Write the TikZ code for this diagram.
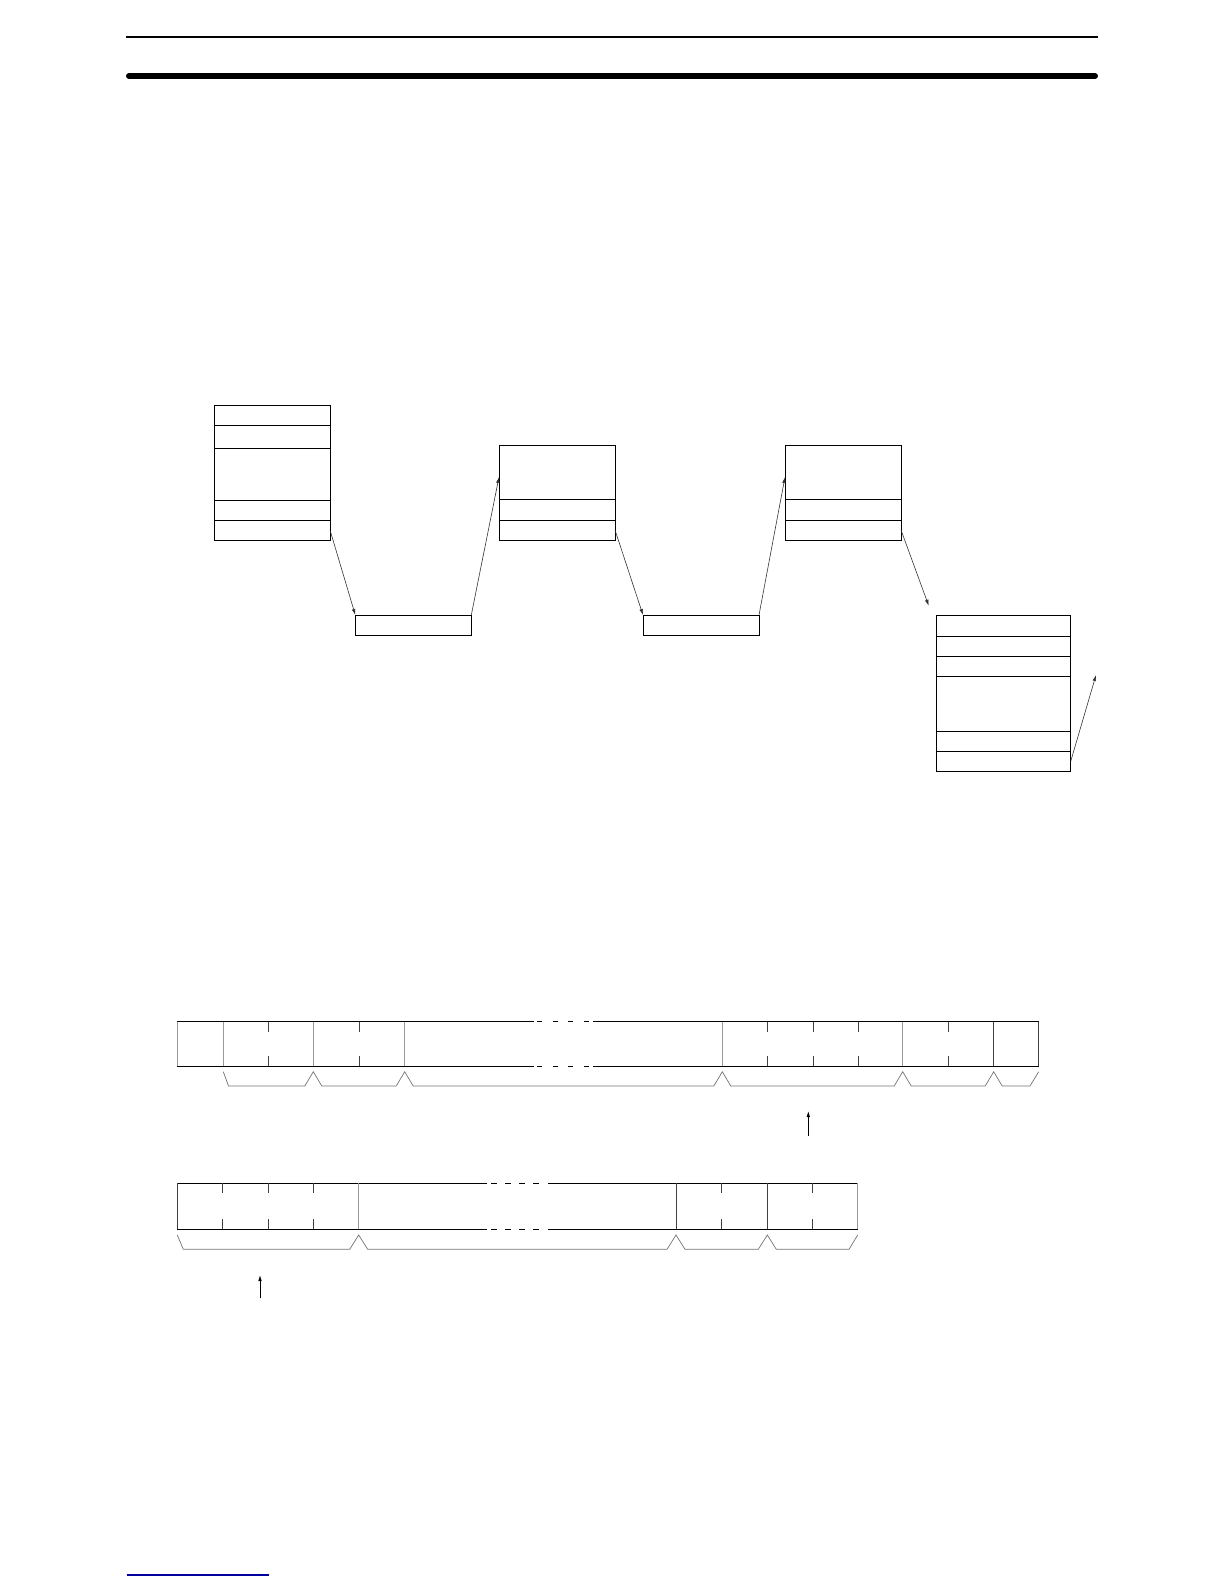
\documentclass[tikz,border=0pt]{standalone}
\usetikzlibrary{positioning}
\usetikzlibrary{arrows.meta}
\definecolor{linkblue}{RGB}{0,0,160}
\tikzstyle{fld} = [rectangle,draw=black,line width=0.9pt,inner sep=0pt,outer sep=0pt,minimum width=116pt]
\tikzstyle{edg} = [-{Latex[length=6pt,width=3.6pt]},draw=black!80,line width=0.6pt]
\tikzstyle{frm} = [draw=black,line width=1pt]

\begin{document}
\begin{tikzpicture}[x=1pt,y=-1pt,
  sep/.style={draw=black!40,line width=0.8pt},
  tck/.style={draw=black!75,line width=0.8pt},
  brc/.style={draw=black!55,line width=0.7pt}]
\useasboundingbox (0,0) rectangle (1224,1584);
%\draw [help lines] (0,0) grid (1224,1584);

% Page rules
\draw[line width=1.7pt] (126,37.3) -- (1098,37.3);
\draw[line width=6pt, line cap=round] (129,76) -- (1095,76);
\draw[linkblue, line width=1.2pt] (126.7,1575) -- (269,1575);

% Define nodes
\node[fld, anchor=north west, minimum height=20pt] at (214,405)   (a1) {};
\node[fld, below=0pt of a1, minimum height=23pt]                 (a2) {};
\node[fld, below=0pt of a2, minimum height=52pt]                 (a3) {};
\node[fld, below=0pt of a3, minimum height=20pt]                 (a4) {};
\node[fld, below=0pt of a4, minimum height=20pt]                 (a5) {};

\node[fld, anchor=north west, minimum height=20pt] at (355.3,615) (s1) {};

\node[fld, anchor=north west, minimum height=54pt] at (499,445)   (b1) {};
\node[fld, below=0pt of b1, minimum height=21pt]                 (b2) {};
\node[fld, below=0pt of b2, minimum height=20pt]                 (b3) {};

\node[fld, anchor=north west, minimum height=20pt] at (643,615)   (s2) {};

\node[fld, anchor=north west, minimum height=54pt] at (785,445)   (c1) {};
\node[fld, below=0pt of c1, minimum height=21pt]                 (c2) {};
\node[fld, below=0pt of c2, minimum height=20pt]                 (c3) {};

\node[fld, anchor=north west, minimum width=134pt, minimum height=21pt] at (936.7,615.3) (d1) {};
\node[fld, below=0pt of d1, minimum width=134pt, minimum height=20pt] (d2) {};
\node[fld, below=0pt of d2, minimum width=134pt, minimum height=20pt] (d3) {};
\node[fld, below=0pt of d3, minimum width=134pt, minimum height=55pt] (d4) {};
\node[fld, below=0pt of d4, minimum width=134pt, minimum height=20pt] (d5) {};
\node[fld, below=0pt of d5, minimum width=134pt, minimum height=20pt] (d6) {};

\coordinate (cEnd) at (928.7,605.7);
\coordinate (dOut) at (1096,675);

% Edges
\draw[edg] (a5.east)       -- (s1.north west);
\draw[edg] (s1.north east) -- ([yshift=-5pt]b1.west);
\draw[edg] (b3.east)       -- (s2.north west);
\draw[edg] (s2.north east) -- ([yshift=-5pt]c1.west);
\draw[edg] (c3.east)       -- (cEnd);
\draw[edg] (d6.east)       -- (dOut);

% Frame strip (upper)
\draw[frm] (177.3,1021.5) -- (534,1021.5) (593,1021.5) -- (1038.7,1021.5);
\draw[frm] (177.3,1066) -- (534,1066) (593,1066) -- (1038.7,1066);
\draw[frm, dash pattern=on 5pt off 10.5pt] (537,1021.5) -- (590,1021.5) (537,1066) -- (590,1066);
\foreach \x in {177.3,223.3,313.3,404.7,722.3,902.7}
  \draw[sep] (\x,1021.5) -- (\x,1066);
\foreach \x in {993.7,1038.7}
  \draw[tck] (\x,1021.5) -- (\x,1066);
\foreach \x in {268.3,359.3,767.3,813.3,858.3,948.3}
  \draw[tck] (\x,1021.5) -- (\x,1031.5) (\x,1056) -- (\x,1066);
\draw[brc] (223.3,1071.7) -- (228.5,1086)
  \foreach \x in {313.3,404.7,722.3,902.7,993.7} { -- (\x-8.5,1086) -- (\x,1071.7) -- (\x+8.5,1086) }
  -- (1030,1086) -- (1038.7,1071.7);

\coordinate (upA)  at (808.3,1136);
\coordinate (tipA) at (808.3,1111);
\draw[-{Latex[length=6pt,width=3.6pt]}, line width=0.8pt] (upA) -- (tipA);

% Frame strip (lower)
\draw[frm] (177.3,1183.3) -- (487.3,1183.3) (548.3,1183.3) -- (857.7,1183.3);
\draw[frm] (177.3,1229.3) -- (487.3,1229.3) (548.3,1229.3) -- (857.7,1229.3);
\draw[frm, dash pattern=on 6pt off 8pt] (491,1183.3) -- (545,1183.3) (491,1229.3) -- (545,1229.3);
\foreach \x in {358.7,857.7}
  \draw[sep] (\x,1183.3) -- (\x,1229.3);
\foreach \x in {177.3,676,767.3}
  \draw[tck] (\x,1183.3) -- (\x,1229.3);
\foreach \x in {222.7,268.3,313.3,721.7,812.3}
  \draw[tck] (\x,1183.3) -- (\x,1193.3) (\x,1219.3) -- (\x,1229.3);
\draw[brc] (177.3,1235) -- (183.3,1249.3)
  \foreach \x in {358.7,676,767.3} { -- (\x-9,1249.3) -- (\x,1235) -- (\x+9,1249.3) }
  -- (849,1249.3) -- (857.7,1235);

\coordinate (upB)  at (260,1298);
\coordinate (tipB) at (260,1275);
\draw[-{Latex[length=6pt,width=3.6pt]}, line width=0.8pt] (upB) -- (tipB);
\end{tikzpicture}
\end{document}
